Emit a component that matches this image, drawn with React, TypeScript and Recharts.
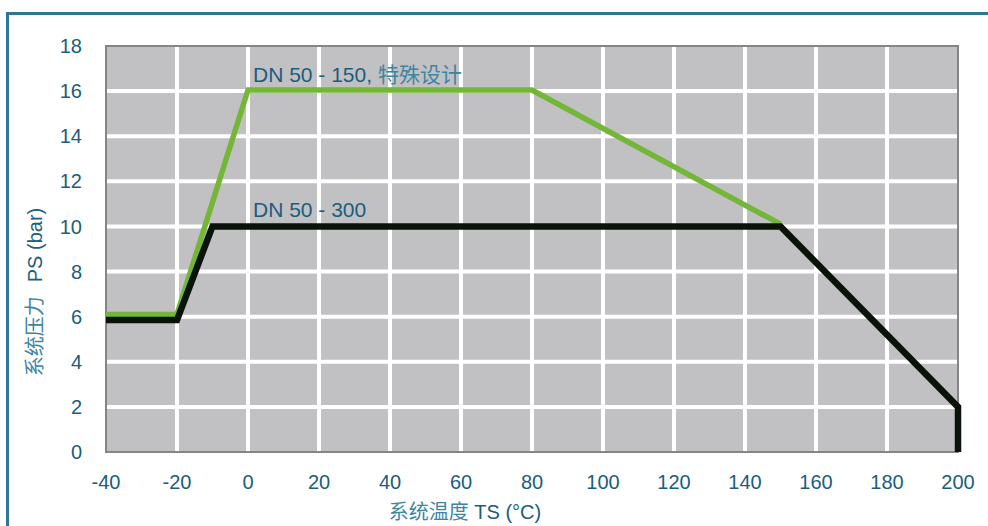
import React from "react"
import {
  LineChart,
  Line,
  XAxis,
  YAxis,
  CartesianGrid,
  ReferenceArea,
  ReferenceDot,
} from "recharts"

// temperature (°C) / pressure (bar) corner points of each limit curve
const specialTemps = [-40, -20, 0, 80, 150]
const specialPressures = [6.1, 6.1, 16.05, 16.05, 10.1]

const standardTemps = [-40, -20, -10, 150, 200, 200]
const standardPressures = [5.85, 5.85, 10, 10, 2, 0]

const tempTicks = [-40, -20, 0, 20, 40, 60, 80, 100, 120, 140, 160, 180, 200]
const pressureTicks = [0, 2, 4, 6, 8, 10, 12, 14, 16, 18]

const specialLabel = { latin: "DN 50 - 150, ", cjk: "特殊设计" }
const standardLabel = { latin: "DN 50 - 300", cjk: "" }

const xLabel = { cjk: "系统温度", latin: " TS (°C)" }
const yLabel = { cjk: "系统压力", latin: "PS (bar)" }

const specialData = specialTemps.map((t, i) => ({ t, p: specialPressures[i] }))
const standardData = standardTemps.map((t, i) => ({ t, p: standardPressures[i] }))

const FONT = "'Liberation Sans', Arial, 'Noto Sans CJK SC', sans-serif"
const TEXT = "#1a5d7d"
const TEXT_LIGHT = "#3d85a2"
const GREEN = "#74b637"
const BLACK = "#0a130a"

const tickStyle = { fill: TEXT, fontSize: 20, fontFamily: FONT }

const curveLabel = (lbl: { latin: string; cjk: string }) => (props: any) => {
  const vb = props.viewBox || {}
  return (
    <text
      x={vb.x + 5}
      y={vb.y - 17}
      dominantBaseline="central"
      fontSize={21}
      fontFamily={FONT}
      fill={TEXT}
    >
      {lbl.latin}
      {lbl.cjk && <tspan fill={TEXT_LIGHT}>{lbl.cjk}</tspan>}
    </text>
  )
}

export default function App() {
  return (
    <div
      style={{
        position: "absolute",
        left: 0,
        top: 0,
        width: 988,
        height: 526,
        overflow: "hidden",
        background: "#fff",
        fontFamily: FONT,
      }}
    >
      {/* outer teal frame */}
      <div
        style={{
          position: "absolute",
          left: 6,
          top: 12,
          width: 1100,
          height: 700,
          borderTop: "3px solid #2a7892",
          borderLeft: "3px solid #2a7892",
        }}
      />

      <div style={{ position: "absolute", left: 0, top: 0 }}>
        <LineChart
          width={988}
          height={526}
          margin={{ top: 46, right: 30, bottom: 8, left: 0 }}
        >
          <CartesianGrid
            fill="#c1c1c3"
            stroke="#ffffff"
            strokeWidth={4}
            horizontalValues={pressureTicks.slice(1, -1)}
            verticalValues={tempTicks.slice(1, -1)}
          />
          <XAxis
            dataKey="t"
            type="number"
            domain={[-40, 200]}
            ticks={tempTicks}
            interval={0}
            height={66}
            axisLine={false}
            tickLine={false}
            tickSize={0}
            tickMargin={23}
            tick={tickStyle}
            allowDuplicatedCategory={false}
          />
          <YAxis
            type="number"
            domain={[0, 18]}
            ticks={pressureTicks}
            interval={0}
            width={106}
            axisLine={false}
            tickLine={false}
            tickSize={0}
            tickMargin={24}
            tick={tickStyle}
          />
          <ReferenceArea
            x1={-40}
            x2={200}
            y1={0}
            y2={18}
            fill="none"
            stroke="#858585"
            strokeWidth={2}
            fillOpacity={0}
            strokeOpacity={1}
          />
          <Line
            data={specialData}
            dataKey="p"
            type="linear"
            stroke={GREEN}
            strokeWidth={5.5}
            dot={false}
            activeDot={false}
            isAnimationActive={false}
          />
          <Line
            data={standardData}
            dataKey="p"
            type="linear"
            stroke={BLACK}
            strokeWidth={6.5}
            dot={false}
            activeDot={false}
            isAnimationActive={false}
          />
          <ReferenceDot
            x={0}
            y={16}
            r={0}
            fill="none"
            stroke="none"
            label={{ content: curveLabel(specialLabel) }}
          />
          <ReferenceDot
            x={0}
            y={10}
            r={0}
            fill="none"
            stroke="none"
            label={{ content: curveLabel(standardLabel) }}
          />
        </LineChart>
      </div>

      {/* axis titles */}
      <div
        style={{
          position: "absolute",
          left: 465,
          top: 510,
          transform: "translate(-50%, -50%)",
          whiteSpace: "nowrap",
          fontSize: 20,
          color: TEXT,
        }}
      >
        <span style={{ color: TEXT_LIGHT }}>{xLabel.cjk}</span>
        {xLabel.latin}
      </div>
      <div
        style={{
          position: "absolute",
          left: 33,
          top: 292,
          transform: "translate(-50%, -50%) rotate(-90deg)",
          whiteSpace: "nowrap",
          fontSize: 20,
          color: TEXT,
        }}
      >
        <span style={{ color: TEXT_LIGHT, marginRight: 14 }}>{yLabel.cjk}</span>
        {yLabel.latin}
      </div>
    </div>
  )
}
